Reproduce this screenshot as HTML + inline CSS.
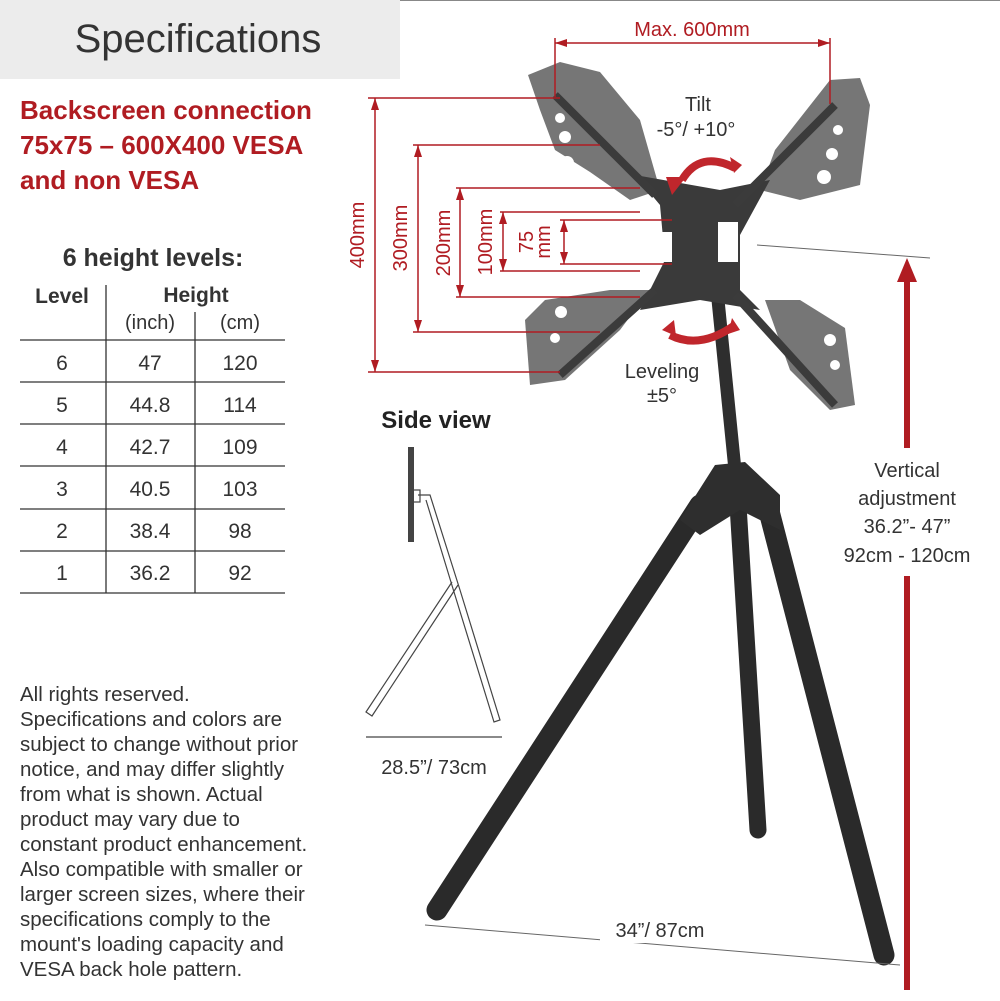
<!DOCTYPE html>
<html><head><meta charset="utf-8"><style>
html,body{margin:0;padding:0;background:#fff}
svg{display:block}
text{font-family:"Liberation Sans",sans-serif}
</style></head><body>
<svg width="1000" height="1001" viewBox="0 0 1000 1001" xmlns="http://www.w3.org/2000/svg">
<rect x="0" y="0" width="1000" height="1001" fill="#fff"/>
<line x1="0" y1="0.5" x2="1000" y2="0.5" stroke="#888" stroke-width="1"/>
<rect x="0" y="0" width="400" height="79" fill="#ececec"/>
<text x="198" y="52" font-size="40" fill="#333" text-anchor="middle">Specifications</text>
<g fill="#b01c22" font-size="26" font-weight="bold">
<text x="20" y="119">Backscreen connection</text>
<text x="20" y="154">75x75 – 600X400 VESA</text>
<text x="20" y="189">and non VESA</text>
</g>
<text x="153" y="266" font-size="25" font-weight="bold" fill="#333" text-anchor="middle">6 height levels:</text>
<text x="62" y="303" font-size="21" font-weight="bold" fill="#333" text-anchor="middle">Level</text>
<text x="196" y="302" font-size="21" font-weight="bold" fill="#333" text-anchor="middle">Height</text>
<text x="150" y="329" font-size="20" fill="#333" text-anchor="middle">(inch)</text>
<text x="240" y="329" font-size="20" fill="#333" text-anchor="middle">(cm)</text>
<g stroke="#333" stroke-width="1.3">
<line x1="106" y1="285" x2="106" y2="593"/>
<line x1="195" y1="312" x2="195" y2="593"/>
<line x1="20" y1="340" x2="285" y2="340"/>
<line x1="20" y1="382" x2="285" y2="382"/>
<line x1="20" y1="424" x2="285" y2="424"/>
<line x1="20" y1="466" x2="285" y2="466"/>
<line x1="20" y1="509" x2="285" y2="509"/>
<line x1="20" y1="551" x2="285" y2="551"/>
<line x1="20" y1="593" x2="285" y2="593"/>
</g>
<g font-size="21" fill="#333" text-anchor="middle">
<text x="62" y="370">6</text><text x="150" y="370">47</text><text x="240" y="370">120</text>
<text x="62" y="412">5</text><text x="150" y="412">44.8</text><text x="240" y="412">114</text>
<text x="62" y="454">4</text><text x="150" y="454">42.7</text><text x="240" y="454">109</text>
<text x="62" y="496">3</text><text x="150" y="496">40.5</text><text x="240" y="496">103</text>
<text x="62" y="538">2</text><text x="150" y="538">38.4</text><text x="240" y="538">98</text>
<text x="62" y="580">1</text><text x="150" y="580">36.2</text><text x="240" y="580">92</text>
</g>
<g font-size="20.5" fill="#333">
<text x="20" y="701">All rights reserved.</text>
<text x="20" y="726">Specifications and colors are</text>
<text x="20" y="751">subject to change without prior</text>
<text x="20" y="776">notice, and may differ slightly</text>
<text x="20" y="801">from what is shown. Actual</text>
<text x="20" y="826">product may vary due to</text>
<text x="20" y="851">constant product enhancement.</text>
<text x="20" y="876">Also compatible with smaller or</text>
<text x="20" y="901">larger screen sizes, where their</text>
<text x="20" y="926">specifications comply to the</text>
<text x="20" y="951">mount's loading capacity and</text>
<text x="20" y="976">VESA back hole pattern.</text>
</g>

<!-- tripod -->
<g stroke-linecap="round">
<line x1="718" y1="300" x2="735" y2="470" stroke="#2e2e2e" stroke-width="13"/>
<line x1="700" y1="505" x2="437" y2="910" stroke="#2a2a2a" stroke-width="21"/>
<line x1="738" y1="505" x2="758" y2="830" stroke="#2a2a2a" stroke-width="17"/>
<line x1="770" y1="515" x2="884" y2="955" stroke="#2a2a2a" stroke-width="21"/>
</g>
<path d="M680 520 L715 465 L745 462 L780 495 L780 530 L740 510 L700 535 Z" fill="#2e2e2e"/>
<!-- plates -->
<g fill="#767676">
<path d="M528 75 L560 62 L600 72 L640 120 L660 190 L630 200 L590 172 L555 150 L540 110 Z"/>
<path d="M860 78 L870 105 L860 185 L800 200 L760 190 L775 150 L830 80 Z"/>
<path d="M530 385 L525 320 L545 300 L610 290 L650 290 L620 330 L565 380 Z"/>
<path d="M765 300 L800 300 L845 328 L855 405 L830 410 L790 370 Z"/>
</g>
<path d="M635 175 L720 190 L770 180 L740 235 L740 290 L760 310 L700 300 L640 310 L665 260 L660 205 Z" fill="#3a3a3a"/>
<g stroke="#3b3b3b" stroke-width="8">
<line x1="555" y1="95" x2="655" y2="195"/>
<line x1="835" y1="105" x2="735" y2="205"/>
<line x1="560" y1="375" x2="655" y2="290"/>
<line x1="835" y1="405" x2="735" y2="295"/>
</g>
<g fill="#fff">
<rect x="652" y="232" width="20" height="30"/><rect x="718" y="222" width="20" height="40"/>
<circle cx="560" cy="118" r="5"/><circle cx="565" cy="137" r="6"/><circle cx="567" cy="163" r="7"/>
<circle cx="838" cy="130" r="5"/><circle cx="832" cy="154" r="6"/><circle cx="824" cy="177" r="7"/>
<circle cx="561" cy="312" r="6"/><circle cx="555" cy="338" r="5"/>
<circle cx="830" cy="340" r="6"/><circle cx="835" cy="365" r="5"/>
</g>
<!-- dimension lines -->
<g stroke="#b01c22" stroke-width="1.5" fill="none">
<line x1="555" y1="43" x2="830" y2="43"/><line x1="555" y1="38" x2="555" y2="97"/><line x1="830" y1="38" x2="830" y2="104"/>
<line x1="368" y1="98" x2="560" y2="98"/><line x1="368" y1="372" x2="560" y2="372"/><line x1="375" y1="98" x2="375" y2="372"/>
<line x1="413" y1="145" x2="600" y2="145"/><line x1="413" y1="332" x2="600" y2="332"/><line x1="418" y1="145" x2="418" y2="332"/>
<line x1="456" y1="188" x2="640" y2="188"/><line x1="456" y1="297" x2="640" y2="297"/><line x1="460" y1="188" x2="460" y2="297"/>
<line x1="500" y1="212" x2="640" y2="212"/><line x1="500" y1="271" x2="640" y2="271"/><line x1="503" y1="212" x2="503" y2="271"/>
<line x1="560" y1="220" x2="672" y2="220"/><line x1="560" y1="264" x2="672" y2="264"/><line x1="564" y1="220" x2="564" y2="264"/>
</g>
<g fill="#b01c22">
<path d="M555 43 l12 -4 v8 z"/><path d="M830 43 l-12 -4 v8 z"/>
<path d="M375 98 l-4 12 h8 z"/><path d="M375 372 l-4 -12 h8 z"/>
<path d="M418 145 l-4 12 h8 z"/><path d="M418 332 l-4 -12 h8 z"/>
<path d="M460 188 l-4 12 h8 z"/><path d="M460 297 l-4 -12 h8 z"/>
<path d="M503 212 l-4 12 h8 z"/><path d="M503 271 l-4 -12 h8 z"/>
<path d="M564 220 l-4 12 h8 z"/><path d="M564 264 l-4 -12 h8 z"/>
</g>
<g fill="#b01c22" font-size="20">
<text x="692" y="36" text-anchor="middle">Max. 600mm</text>
<text transform="translate(364,235) rotate(-90)" text-anchor="middle">400mm</text>
<text transform="translate(407,238) rotate(-90)" text-anchor="middle">300mm</text>
<text transform="translate(450,243) rotate(-90)" text-anchor="middle">200mm</text>
<text transform="translate(492,242) rotate(-90)" text-anchor="middle">100mm</text>
<text transform="translate(533,242) rotate(-90)" text-anchor="middle">75</text>
<text transform="translate(550,242) rotate(-90)" text-anchor="middle">mm</text>
</g>
<!-- rotation arrows -->
<g stroke="#c0262c" stroke-width="8" fill="none">
<path d="M682 180 Q700 150 735 168"/>
<path d="M670 335 Q700 350 735 325"/>
</g>
<g fill="#c0262c">
<path d="M672 195 l-6 -18 l20 0 z"/><path d="M742 165 l-12 -8 l4 16 z"/>
<path d="M662 330 l12 -10 l2 16 z"/><path d="M740 330 l-8 -12 l-4 16 z"/>
</g>
<g fill="#333" font-size="20" text-anchor="middle">
<text x="698" y="111">Tilt</text><text x="696" y="136">-5°/ +10°</text>
<text x="662" y="378">Leveling</text><text x="662" y="402">±5°</text>
</g>
<!-- vertical adjustment -->
<line x1="757" y1="245" x2="930" y2="258" stroke="#666" stroke-width="1"/>
<line x1="907" y1="280" x2="907" y2="990" stroke="#b01c22" stroke-width="6"/>
<path d="M907 258 l-10 24 h20 z" fill="#b01c22"/>
<rect x="840" y="448" width="140" height="128" fill="#fff"/>
<g fill="#333" font-size="20" text-anchor="middle">
<text x="907" y="477">Vertical</text><text x="907" y="505">adjustment</text>
<text x="907" y="533">36.2”- 47”</text><text x="907" y="562">92cm - 120cm</text>
</g>
<line x1="425" y1="925" x2="900" y2="965" stroke="#666" stroke-width="1"/>
<rect x="600" y="915" width="120" height="28" fill="#fff"/>
<text x="660" y="937" font-size="20" fill="#333" text-anchor="middle">34”/ 87cm</text>
<!-- side view -->
<text x="436" y="428" font-size="24" font-weight="bold" fill="#222" text-anchor="middle">Side view</text>
<rect x="408" y="447" width="6" height="95" fill="#444"/>
<g stroke="#444" stroke-width="1.2" fill="none">
<path d="M418 495 L430 495 L460 590 L500 720 L494 722 L454 592 L426 500"/>
<path d="M458 585 L372 716 L366 712 L452 582"/>
<rect x="410" y="490" width="10" height="12"/>
<line x1="366" y1="737" x2="502" y2="737"/>
</g>
<text x="434" y="774" font-size="20" fill="#333" text-anchor="middle">28.5”/ 73cm</text>
</svg>
</body></html>
